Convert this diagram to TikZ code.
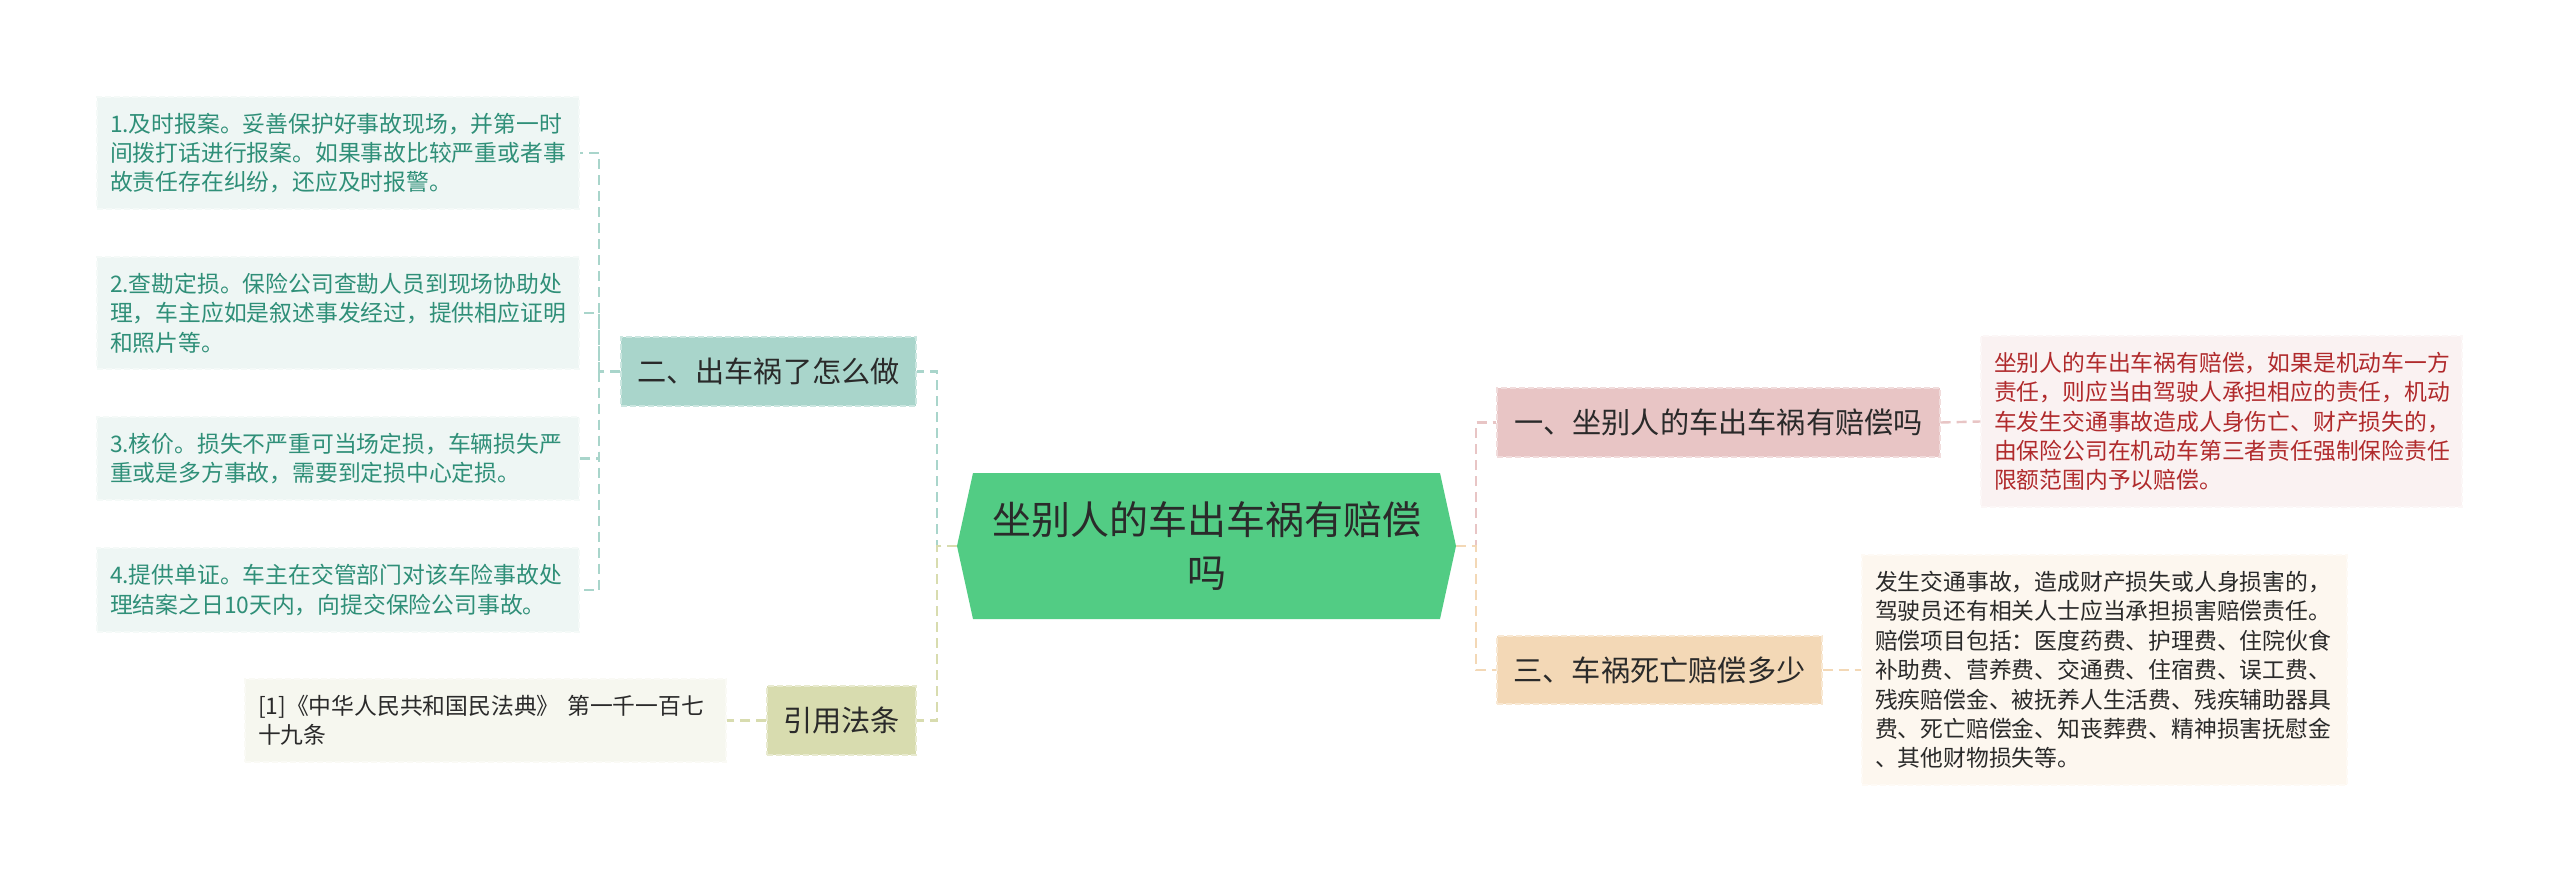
\documentclass[tikz,border=0pt]{standalone}
\usepackage{fontspec}
\setmainfont{Noto Sans CJK SC}
\usetikzlibrary{calc}
\definecolor{tealfill}{HTML}{EEF6F4}
\definecolor{tealtext}{HTML}{2F8F78}
\definecolor{tealmid}{HTML}{A9D5CB}
\definecolor{cgreen}{HTML}{52CC84}
\definecolor{olivemid}{HTML}{D8DCAF}
\definecolor{olivefill}{HTML}{F6F7EF}
\definecolor{pinkmid}{HTML}{E8C5C5}
\definecolor{pinkfill}{HTML}{FAF2F2}
\definecolor{redtext}{HTML}{B02A2C}
\definecolor{peachmid}{HTML}{F3D8B6}
\definecolor{peachfill}{HTML}{FDF7EF}
\definecolor{darktext}{HTML}{2A2A2A}
\begin{document}
\begin{tikzpicture}[x=0.5pt,y=-0.5pt,
  leaf/.style={rectangle, inner xsep=6.5pt, inner ysep=0pt, align=left,
    text width=#1, font=\fontsize{11.4}{14.7}\selectfont,
    dash pattern=on 3pt off 1.5pt, line width=0.6pt},
  topic/.style={rectangle, inner sep=0pt, align=center,
    font=\fontsize{14.6}{18}\selectfont, text=darktext,
    dash pattern=on 3pt off 1.5pt, line width=0.6pt},
  conn/.style={dash pattern=on 5pt off 3pt, line width=1.2pt},
  tealleaf/.style={fill=tealfill, draw=tealfill!60!white, text=tealtext},
]
\useasboundingbox (0,0) rectangle (2560,883);
\fill[white] (0,0) rectangle (2560,883);

% central topic
\fill[cgreen] (973,473) -- (1440,473) -- (1456,546) -- (1440,619) -- (973,619) -- (957,546) -- cycle;
\node[align=center, inner sep=0pt, text=darktext, font=\fontsize{19.5}{26}\selectfont]
  (cen) at (1206.5,546) {坐别人的车出车祸有赔偿\\吗};
\coordinate (cenL) at (957,546);
\coordinate (cenR) at (1456,546);

% left branch: 二
\node[leaf=228pt, tealleaf, minimum height=56pt] (b1) at (338,153)
  {1.及时报案。妥善保护好事故现场，并第一时\\间拨打话进行报案。如果事故比较严重或者事\\故责任存在纠纷，还应及时报警。};
\node[leaf=228pt, tealleaf, minimum height=56pt] (b2) at (338,313)
  {2.查勘定损。保险公司查勘人员到现场协助处\\理，车主应如是叙述事发经过，提供相应证明\\和照片等。};
\node[leaf=228pt, tealleaf, minimum height=41.5pt] (b3) at (338,458.5)
  {3.核价。损失不严重可当场定损，车辆损失严\\重或是多方事故，需要到定损中心定损。};
\node[leaf=228pt, tealleaf, minimum height=42pt] (b4) at (338,590)
  {4.提供单证。车主在交管部门对该车险事故处\\理结案之日10天内，向提交保险公司事故。};
\node[topic, fill=tealmid, draw=tealmid!60!white, minimum width=147.5pt, minimum height=34.5pt]
  (er) at (768.5,371.5) {二、出车祸了怎么做};

% left branch: 引用法条
\node[topic, fill=olivemid, draw=olivemid!60!white, minimum width=74.5pt, minimum height=34.5pt]
  (ref) at (841.5,720.5) {引用法条};
\node[leaf=227.5pt, fill=olivefill, draw=olivefill!60!white, text=darktext, minimum height=41.5pt]
  (law) at (485.5,720.5) {[1]《中华人民共和国民法典》 第一千一百七\\十九条};

% right branch: 一
\node[topic, fill=pinkmid, draw=pinkmid!60!white, minimum width=221.5pt, minimum height=34.5pt]
  (one) at (1718.5,422.5) {一、坐别人的车出车祸有赔偿吗};
\node[leaf=227.5pt, fill=pinkfill, draw=pinkfill!60!white, text=redtext, minimum height=85.5pt]
  (red) at (2221.5,421.5) {坐别人的车出车祸有赔偿，如果是机动车一方\\责任，则应当由驾驶人承担相应的责任，机动\\车发生交通事故造成人身伤亡、财产损失的，\\由保险公司在机动车第三者责任强制保险责任\\限额范围内予以赔偿。};

% right branch: 三
\node[topic, fill=peachmid, draw=peachmid!60!white, minimum width=162.5pt, minimum height=34pt]
  (three) at (1659.5,670) {三、车祸死亡赔偿多少};
\node[leaf=229.5pt, fill=peachfill, draw=peachfill!60!white, text=darktext, minimum height=115pt]
  (beige) at (2104.5,670) {发生交通事故，造成财产损失或人身损害的，\\驾驶员还有相关人士应当承担损害赔偿责任。\\赔偿项目包括：医度药费、护理费、住院伙食\\补助费、营养费、交通费、住宿费、误工费、\\残疾赔偿金、被抚养人生活费、残疾辅助器具\\费、死亡赔偿金、知丧葬费、精神损害抚慰金\\、其他财物损失等。};

% connectors
\coordinate (lj) at (599,371.5);
\draw[conn, tealmid] (er.west) -- (lj) |- (b1.east);
\draw[conn, tealmid] (lj) |- (b2.east);
\draw[conn, tealmid] (lj) |- (b3.east);
\draw[conn, tealmid] (lj) |- (b4.east);

\coordinate (cj) at (937,546);
\draw[conn, tealmid] (cenL) -- (cj) |- (er.east);
\draw[conn, olivemid] (cenL) -- (cj) |- (ref.east);
\draw[conn, olivemid] (ref.west) -- (law.east);

\coordinate (rj) at (1476,546);
\draw[conn, pinkmid] (cenR) -- (rj) |- (one.west);
\draw[conn, peachmid] (cenR) -- (rj) |- (three.west);
\draw[conn, pinkmid] (one.east) -- (red.west);
\draw[conn, peachmid] (three.east) -- (beige.west);
\end{tikzpicture}
\end{document}
